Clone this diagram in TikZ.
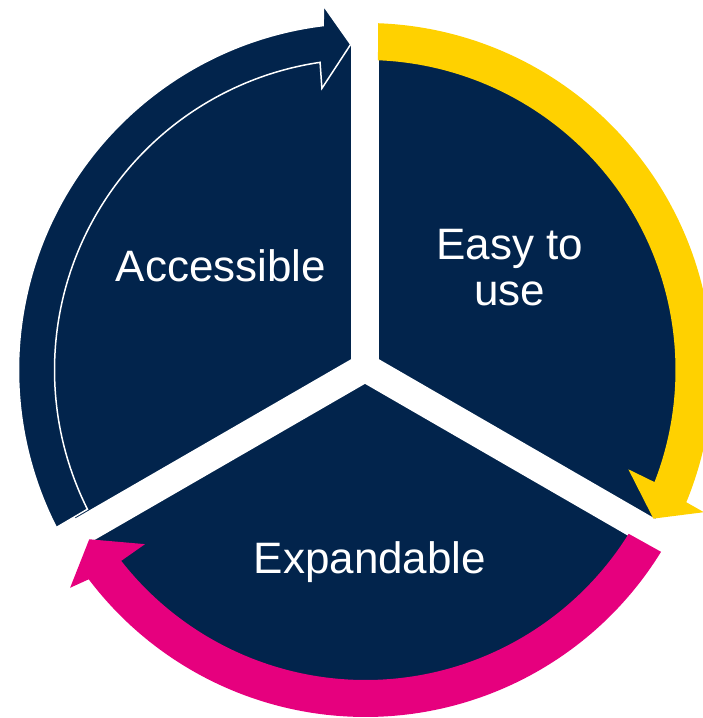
\documentclass[tikz,border=0pt]{standalone}
\usepackage{fontspec}
\setmainfont{Liberation Sans}
\definecolor{navyc}{RGB}{2,36,76}
\definecolor{yellowc}{RGB}{255,209,0}
\definecolor{magc}{RGB}{230,0,126}
\begin{document}
\begin{tikzpicture}[x=1pt,y=1pt,
  lbl/.style={text=white, font=\fontsize{44}{46}\selectfont, inner sep=0pt},
  gapline/.style={draw=white, line width=28.3pt},
  navyarrow/.style={fill=navyc, draw=white, line width=1.5pt}]
\useasboundingbox (0,0) rectangle (703,718);
\coordinate (O) at (365.5,348);
\coordinate (Y) at (365,350.5);
% pie sectors
\fill[navyc] (365.5,349) circle[radius=326pt];
\draw[gapline] (Y) -- ++(90:345pt);
\draw[gapline] (Y) -- ++(-30:345pt);
\draw[gapline] (Y) -- ++(210:345pt);
% circular arrows
\begin{scope}[shift={(O)}]
\fill[yellowc] (87.9:347pt) arc[start angle=87.9, end angle=-22.4, radius=347pt]
  -- (-22.8:367pt) -- (-27.3:324pt) -- (-20.7:281pt) -- (-21.2:310pt)
  arc[start angle=-21.2, end angle=87.7, radius=310pt] -- cycle;
\fill[magc] (-31.6:347pt) arc[start angle=-31.6, end angle=-142.9, radius=347pt]
  -- (-143.6:367pt) -- (-148.5:324pt) -- (-141.7:281pt) -- (-142:310pt)
  arc[start angle=-142, end angle=-31.9, radius=310pt] -- cycle;
\path[navyarrow] (207:347pt) arc[start angle=207, end angle=97, radius=347pt]
  -- (96.6:367pt) -- (92.6:326pt) -- (98.8:285pt) -- (98.4:311pt)
  arc[start angle=98.4, end angle=206.6, radius=311pt] -- cycle;
\end{scope}
% labels
\node[lbl, anchor=north, align=center] (easy) at (510,488.7) {Easy to\\use};
\node[lbl, anchor=base] (acc) at (221,436) {Accessible};
\node[lbl, anchor=base] (exp) at (370,144.7) {Expandable};
\end{tikzpicture}
\end{document}
